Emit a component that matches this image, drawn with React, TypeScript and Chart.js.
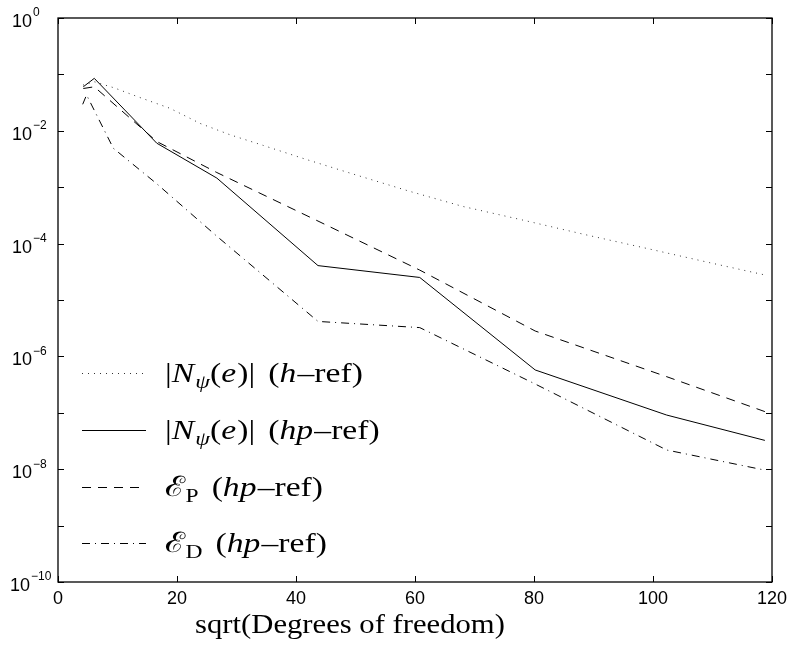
import React, { useEffect, useRef } from "react";
import { Chart, registerables } from "chart.js";

Chart.register(...registerables);

// h-refinement, |N_psi(e)|
const hRefX = [4.2, 6.1, 9.5, 13.5, 18.8, 23.9, 28.9, 34.5, 41.5, 50, 59, 68, 78, 89, 100, 110, 119];
const hRefN = [0.0646, 0.0741, 0.0575, 0.0398, 0.0251, 0.0135, 0.00851, 0.0055, 0.00316, 0.00166, 0.000851, 0.000457, 0.000263, 0.000141, 7.76e-5, 4.47e-5, 2.75e-5];

// hp-refinement
const hpX = [4.25, 6.1, 16.6, 26.7, 43.7, 60.8, 80.2, 102.3, 118.8];
const hpN = [0.0603, 0.0851, 0.00603, 0.00145, 4.07e-5, 2.51e-5, 5.75e-7, 9.12e-8, 3.24e-8];
const hpEP = [0.0562, 0.0603, 0.00646, 0.00182, 2.51e-4, 3.39e-5, 2.82e-6, 4.37e-7, 1.05e-7];
const hpXD = [4.15, 4.8, 9.3, 16.6, 26.7, 43.7, 60.8, 80.2, 102.3, 118.5];
const hpED = [0.0295, 0.0432, 0.0049, 0.00115, 1.35e-4, 4.17e-6, 3.24e-6, 3.24e-7, 2.19e-8, 9.77e-9];

const xTicks = [0, 20, 40, 60, 80, 100, 120];
const yExponents = [0, -1, -2, -3, -4, -5, -6, -7, -8, -9, -10];
const yLabelExponents = [0, -2, -4, -6, -8, -10];
const xTitle = "sqrt(Degrees of freedom)";

type Run = { t: string; it?: boolean; sub?: boolean; gap?: number };
const legendRows: { dash: number[]; runs: Run[] }[] = [
  {
    dash: [1, 5],
    runs: [
      { t: "|" }, { t: "N", it: true }, { t: "ψ", it: true, sub: true }, { t: "(" }, { t: "e", it: true }, { t: ")|" },
      { t: "(", gap: 11 }, { t: "h", it: true }, { t: "–ref)" },
    ],
  },
  {
    dash: [],
    runs: [
      { t: "|" }, { t: "N", it: true }, { t: "ψ", it: true, sub: true }, { t: "(" }, { t: "e", it: true }, { t: ")|" },
      { t: "(", gap: 11 }, { t: "hp", it: true }, { t: "–ref)" },
    ],
  },
  {
    dash: [9, 7],
    runs: [{ t: "ℰ" }, { t: "P", sub: true }, { t: "(", gap: 11 }, { t: "hp", it: true }, { t: "–ref)" }],
  },
  {
    dash: [8, 5, 1, 5],
    runs: [{ t: "ℰ" }, { t: "D", sub: true }, { t: "(", gap: 11 }, { t: "hp", it: true }, { t: "–ref)" }],
  },
];

const SERIF = '"Liberation Serif", "DejaVu Serif", serif';
const SANS = '"Liberation Sans", Arial, sans-serif';

function drawRuns(ctx: CanvasRenderingContext2D, x: number, y: number, runs: Run[], size: number, sx: number) {
  ctx.save();
  ctx.translate(x, y);
  ctx.scale(sx, 1);
  ctx.textAlign = "left";
  ctx.textBaseline = "alphabetic";
  let cx = 0;
  for (const r of runs) {
    cx += r.gap || 0;
    const s = r.sub ? size * 0.7 : size;
    ctx.font = `${r.it ? "italic " : ""}${s}px ${SERIF}`;
    ctx.fillText(r.t, cx, r.sub ? size * 0.22 : 0);
    cx += ctx.measureText(r.t).width + (r.it && !r.sub ? 1 : 0);
  }
  ctx.restore();
}

const framePlugin = {
  id: "framePlugin",
  afterDraw(chart: any) {
    const ctx: CanvasRenderingContext2D = chart.ctx;
    const { left, right, top, bottom } = chart.chartArea;
    const xs = chart.scales.x;
    const ys = chart.scales.y;
    ctx.save();
    ctx.strokeStyle = "#000";
    ctx.fillStyle = "#000";
    ctx.lineWidth = 1.3;
    ctx.setLineDash([]);
    ctx.strokeRect(left, top, right - left, bottom - top);
    const tl = 6;
    ctx.lineWidth = 1;
    ctx.beginPath();
    for (const v of xTicks) {
      const px = Math.round(xs.getPixelForValue(v)) + 0.5;
      ctx.moveTo(px, bottom);
      ctx.lineTo(px, bottom - tl);
      ctx.moveTo(px, top);
      ctx.lineTo(px, top + tl);
    }
    for (const e of yExponents) {
      const py = Math.round(ys.getPixelForValue(Math.pow(10, e))) + 0.5;
      ctx.moveTo(left, py);
      ctx.lineTo(left + tl, py);
      ctx.moveTo(right, py);
      ctx.lineTo(right - tl, py);
    }
    ctx.stroke();

    // x tick labels
    ctx.font = `18px ${SANS}`;
    ctx.textAlign = "center";
    ctx.textBaseline = "middle";
    for (const v of xTicks) {
      ctx.fillText(String(v), xs.getPixelForValue(v), bottom + 17);
    }
    // y tick labels
    for (const e of yLabelExponents) {
      const py = ys.getPixelForValue(Math.pow(10, e));
      const baseRight = e === -10 ? 30 : 32;
      ctx.font = `18px ${SANS}`;
      ctx.textAlign = "right";
      ctx.textBaseline = "middle";
      ctx.fillText("10", baseRight, py + 4);
      ctx.font = `12px ${SANS}`;
      ctx.textAlign = "left";
      const expTxt = e === 0 ? "0" : "−" + String(-e);
      ctx.fillText(expTxt, baseRight + 1, py - 5);
    }

    // x title (widened to match the reference's Computer Modern face)
    ctx.save();
    ctx.font = `28px ${SERIF}`;
    ctx.textAlign = "center";
    ctx.textBaseline = "alphabetic";
    ctx.translate(350, 633);
    ctx.scale(1.095, 1);
    ctx.fillText(xTitle, 0, 0);
    ctx.restore();

    // legend
    const rowY = [373, 430, 487, 543];
    legendRows.forEach((row, i) => {
      const y = rowY[i] + 0.5;
      ctx.lineWidth = 1;
      ctx.strokeStyle = i === 0 ? "#333" : "#000";
      ctx.setLineDash(row.dash);
      ctx.beginPath();
      ctx.moveTo(82, y);
      ctx.lineTo(146, y);
      ctx.stroke();
      ctx.setLineDash([]);
      drawRuns(ctx, 165, rowY[i] + 9, row.runs, 28, 1.2);
    });
    ctx.restore();
  },
};

function pts(xs: number[], ys: number[]) {
  return xs.map((x, i) => ({ x, y: ys[i] }));
}

export default function App() {
  const ref = useRef<HTMLCanvasElement | null>(null);
  useEffect(() => {
    if (!ref.current) return;
    const common = { pointRadius: 0, borderWidth: 1, fill: false, tension: 0 };
    const chart = new Chart(ref.current, {
      type: "line",
      data: {
        datasets: [
          { ...common, data: pts(hRefX, hRefN), borderColor: "#333", borderDash: [1, 5] },
          { ...common, data: pts(hpX, hpN), borderColor: "#000" },
          { ...common, data: pts(hpX, hpEP), borderColor: "#000", borderDash: [9, 7] },
          { ...common, data: pts(hpXD, hpED), borderColor: "#000", borderDash: [8, 5, 1, 5] },
        ],
      },
      options: {
        animation: false,
        responsive: true,
        maintainAspectRatio: false,
        layout: { padding: { left: 58, right: 20, top: 18, bottom: 64 } },
        plugins: { legend: { display: false }, tooltip: { enabled: false } },
        scales: {
          x: { type: "linear", min: 0, max: 120, display: false },
          y: { type: "logarithmic", min: 1e-10, max: 1, display: false },
        },
      },
      plugins: [framePlugin],
    });
    return () => chart.destroy();
  }, []);
  return (
    <div style={{ position: "fixed", left: 0, top: 0, width: 792, height: 646, background: "#fff" }}>
      <canvas ref={ref} />
    </div>
  );
}
